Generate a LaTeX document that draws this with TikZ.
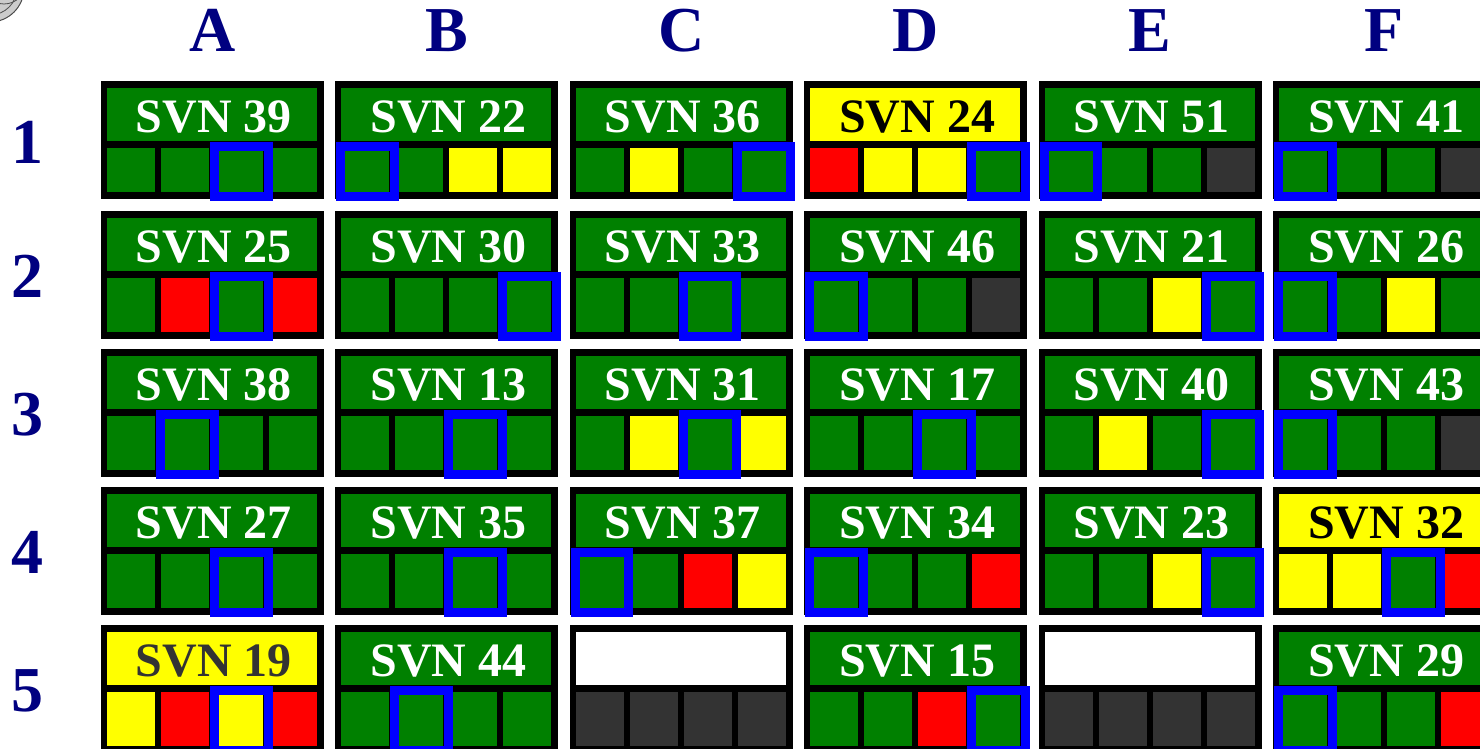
\documentclass[tikz,border=0pt]{standalone}
\usepackage{fontspec}
\setmainfont{Liberation Serif}
\usepackage{tikz}
\definecolor{svngreen}{HTML}{008000}
\definecolor{svnyellow}{HTML}{FFFF00}
\definecolor{svnred}{HTML}{FF0000}
\definecolor{svngrey}{HTML}{333333}
\definecolor{svnblue}{HTML}{0000FF}
\definecolor{svnnavy}{HTML}{000080}

% one satellite cell: #1 column, #2 row, #3 label, #4 header fill,
% #5 label colour, #6 the four slot colours, #7 selected slot (0 = none)
\newcommand{\svncell}[7]{%
  \pgfmathsetmacro{\cx}{101+234.4*(#1-1)}%
  \ifnum#2=1 \def\cy{81}\def\sqh{44}\else\pgfmathsetmacro{\cy}{211+138*(#2-2)}\def\sqh{54}\fi
  \fill[black] (\cx,\cy) rectangle ++(223,{\sqh+74});
  \fill[#4] ({\cx+6},{\cy+7}) rectangle ++(210,53);
  \node[svnlabel, text=#5] (cell#1#2) at ({\cx+113},{\cy+51}) {#3};
  \foreach \c [count=\k from 0] in {#6} {
    \fill[\c] ({\cx+6+54*\k},{\cy+67}) rectangle ++(48,\sqh);
  }
  \ifnum#7>0
    \draw[selbox] ({\cx+5.5+54*(#7-1)},{\cy+65.5}) rectangle ++(53.5,{\sqh+6});
  \fi
}

\begin{document}
\begin{tikzpicture}[
    x=1pt, y=-1pt,
    svnlabel/.style={font=\fontsize{48}{48}\selectfont\bfseries, anchor=base, inner sep=0pt},
    gridhead/.style={font=\fontsize{64}{64}\selectfont\bfseries, text=svnnavy, anchor=base, inner sep=0pt},
    selbox/.style={draw=svnblue, line width=9pt},
]
\useasboundingbox (0,0) rectangle (1480,749);
\clip (0,0) rectangle (1480,749);

% corner emblem (cut off)
\fill[gray!40] (-10,-12) circle (34);
\draw[black!70, line width=1pt] (-10,-12) circle (34);
\draw[black!70, line width=0.8pt] (-10,-12) circle (27);
\draw[black!70, line width=0.8pt] (4,-18) circle (22);

% column and row headings
\foreach \l [count=\i from 0] in {A,B,C,D,E,F}
  \node[gridhead] (col\l) at ({212.5+234.4*\i},52) {\l};
\foreach \r/\y in {1/163, 2/297.5, 3/435.5, 4/573.5, 5/711.5}
  \node[gridhead] (row\r) at (27,\y) {\r};

% row 1
\svncell{1}{1}{SVN 39}{svngreen}{white}{svngreen,svngreen,svngreen,svngreen}{3}
\svncell{2}{1}{SVN 22}{svngreen}{white}{svngreen,svngreen,svnyellow,svnyellow}{1}
\svncell{3}{1}{SVN 36}{svngreen}{white}{svngreen,svnyellow,svngreen,svngreen}{4}
\svncell{4}{1}{SVN 24}{svnyellow}{black}{svnred,svnyellow,svnyellow,svngreen}{4}
\svncell{5}{1}{SVN 51}{svngreen}{white}{svngreen,svngreen,svngreen,svngrey}{1}
\svncell{6}{1}{SVN 41}{svngreen}{white}{svngreen,svngreen,svngreen,svngrey}{1}

% row 2
\svncell{1}{2}{SVN 25}{svngreen}{white}{svngreen,svnred,svngreen,svnred}{3}
\svncell{2}{2}{SVN 30}{svngreen}{white}{svngreen,svngreen,svngreen,svngreen}{4}
\svncell{3}{2}{SVN 33}{svngreen}{white}{svngreen,svngreen,svngreen,svngreen}{3}
\svncell{4}{2}{SVN 46}{svngreen}{white}{svngreen,svngreen,svngreen,svngrey}{1}
\svncell{5}{2}{SVN 21}{svngreen}{white}{svngreen,svngreen,svnyellow,svngreen}{4}
\svncell{6}{2}{SVN 26}{svngreen}{white}{svngreen,svngreen,svnyellow,svngreen}{1}

% row 3
\svncell{1}{3}{SVN 38}{svngreen}{white}{svngreen,svngreen,svngreen,svngreen}{2}
\svncell{2}{3}{SVN 13}{svngreen}{white}{svngreen,svngreen,svngreen,svngreen}{3}
\svncell{3}{3}{SVN 31}{svngreen}{white}{svngreen,svnyellow,svngreen,svnyellow}{3}
\svncell{4}{3}{SVN 17}{svngreen}{white}{svngreen,svngreen,svngreen,svngreen}{3}
\svncell{5}{3}{SVN 40}{svngreen}{white}{svngreen,svnyellow,svngreen,svngreen}{4}
\svncell{6}{3}{SVN 43}{svngreen}{white}{svngreen,svngreen,svngreen,svngrey}{1}

% row 4
\svncell{1}{4}{SVN 27}{svngreen}{white}{svngreen,svngreen,svngreen,svngreen}{3}
\svncell{2}{4}{SVN 35}{svngreen}{white}{svngreen,svngreen,svngreen,svngreen}{3}
\svncell{3}{4}{SVN 37}{svngreen}{white}{svngreen,svngreen,svnred,svnyellow}{1}
\svncell{4}{4}{SVN 34}{svngreen}{white}{svngreen,svngreen,svngreen,svnred}{1}
\svncell{5}{4}{SVN 23}{svngreen}{white}{svngreen,svngreen,svnyellow,svngreen}{4}
\svncell{6}{4}{SVN 32}{svnyellow}{black}{svnyellow,svnyellow,svngreen,svnred}{3}

% row 5
\svncell{1}{5}{SVN 19}{svnyellow}{svngrey}{svnyellow,svnred,svnyellow,svnred}{3}
\svncell{2}{5}{SVN 44}{svngreen}{white}{svngreen,svngreen,svngreen,svngreen}{2}
\svncell{3}{5}{}{white}{white}{svngrey,svngrey,svngrey,svngrey}{0}
\svncell{4}{5}{SVN 15}{svngreen}{white}{svngreen,svngreen,svnred,svngreen}{4}
\svncell{5}{5}{}{white}{white}{svngrey,svngrey,svngrey,svngrey}{0}
\svncell{6}{5}{SVN 29}{svngreen}{white}{svngreen,svngreen,svngreen,svnred}{1}
\end{tikzpicture}
\end{document}
